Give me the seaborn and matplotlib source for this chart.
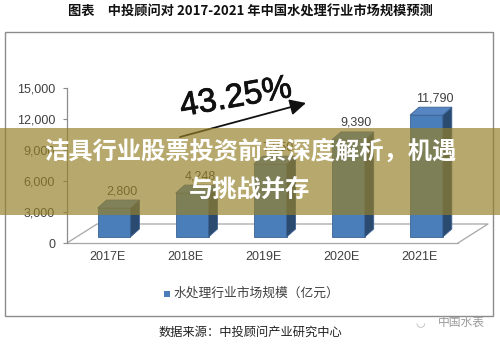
import matplotlib
matplotlib.use("Agg")
import matplotlib.pyplot as plt
import matplotlib.transforms as mtransforms
from matplotlib.patches import Rectangle, Polygon, FancyArrowPatch
import matplotlib.patheffects as pe
import seaborn as sns

# ---- data ----
years = ["2017E", "2018E", "2019E", "2020E", "2021E"]
values = [2800, 4248, 7050, 9390, 11790]
yticks = [0, 3000, 6000, 9000, 12000, 15000]
title = "图表　中投顾问对 2017-2021 年中国水处理行业市场规模预测"
legend_label = "水处理行业市场规模（亿元）"
source = "数据来源：中投顾问产业研究中心"
growth = "43.25%"
banner1 = "洁具行业股票投资前景深度解析，机遇"
banner2 = "与挑战并存"
watermark = "中国水表"

sns.set_theme(style="white")
plt.rcParams["font.family"] = ["Liberation Sans", "Noto Sans CJK SC", "DejaVu Sans"]
CJK = ["Noto Sans CJK SC", "DejaVu Sans"]

W, H = 500, 344
fig = plt.figure(figsize=(W / 100, H / 100), dpi=100)
fig.patch.set_facecolor("white")


def px(x, y):
    return x / W, 1 - y / H


# axes: left at x=67px, y=0 at 243px, 15000 at 88px
ax_left, ax_right, ax_bot, ax_top = 67, 461, 243, 88
ax = fig.add_axes([ax_left / W, 1 - ax_bot / H, (ax_right - ax_left) / W, (ax_bot - ax_top) / H])
ax.set_facecolor("none")

px_per_x = 78.1
px_per_y = (ax_bot - ax_top) / 15000.0
dx = 9 / px_per_x
dy = 8 / px_per_y
base = 6 / px_per_y

FRONT = "#4A7EBB"
SIDE = "#2B4A70"
TOP = "#5786C2"
EDGE = "#3B6294"

sns.barplot(x=years, y=values, ax=ax, color=FRONT, saturation=1, width=0.42,
            bottom=base, edgecolor=EDGE, linewidth=0.6, zorder=3)

xl = (ax_left - 114) / px_per_x
xr = (ax_right - 114) / px_per_x
ax.set_xlim(xl, xr)
ax.set_ylim(0, 15000)

# 3D faces
for p, v in zip(ax.patches, values):
    x0, w = p.get_x(), p.get_width()
    y0, h = p.get_y(), p.get_height()
    top = y0 + h
    side = Polygon([(x0 + w, y0), (x0 + w + dx, y0 + dy), (x0 + w + dx, top + dy), (x0 + w, top)],
                   closed=True, facecolor=SIDE, edgecolor=EDGE, lw=0.6, zorder=3, clip_on=False)
    tp = Polygon([(x0, top), (x0 + dx, top + dy), (x0 + w + dx, top + dy), (x0 + w, top)],
                 closed=True, facecolor=TOP, edgecolor=EDGE, lw=0.6, zorder=3, clip_on=False)
    ax.add_patch(side)
    ax.add_patch(tp)
    ax.annotate(f"{v:,}", (x0 + w / 2, top), xytext=(8, 17), textcoords="offset pixels",
                ha="center", va="center", fontsize=9, color="#404040", zorder=4,
                annotation_clip=False)

# floor
fdx = 30 / px_per_x
fdy = 19 / px_per_y
fx_r = (458 - 114) / px_per_x
floor_kw = dict(color="#a6a6a6", lw=0.9, clip_on=False, zorder=1)
ax.plot([xl, fx_r], [0, 0], **floor_kw)
ax.plot([xl, xl + fdx, fx_r + fdx, fx_r], [0, fdy, fdy, 0], **floor_kw)

# axes styling
for s in ["top", "right", "bottom"]:
    ax.spines[s].set_visible(False)
ax.spines["left"].set_color("#8c8c8c")
ax.spines["left"].set_linewidth(0.9)
ax.set_yticks(yticks)
ax.set_yticklabels([f"{t:,}" for t in yticks])
ax.tick_params(axis="y", direction="out", length=3, width=0.8, color="#8c8c8c",
               pad=5.5, labelsize=9, labelcolor="#404040", left=True)
ax.set_xticks(range(len(years)))
ax.set_xticklabels(years)
ax.tick_params(axis="x", length=0, pad=6, labelsize=9, labelcolor="#404040")
shift = mtransforms.ScaledTranslation(-7 / 100, 0, fig.dpi_scale_trans)
for lab in ax.get_xticklabels():
    lab.set_transform(lab.get_transform() + shift)
ax.set_xlabel("")
ax.set_ylabel("")
ax.grid(False)

# border box
bx0, by0 = px(5, 316)
bx1, by1 = px(493, 32)
fig.patches.append(Rectangle((bx0, by0), bx1 - bx0, by1 - by0, transform=fig.transFigure,
                             facecolor="none", edgecolor="#8c8c8c", lw=1.0, zorder=0))

# title
fig.text(*px(250, 12), title, ha="center", va="center", fontsize=9.5, fontweight="bold",
         color="#111111", family=CJK)

# growth text + arrow
fig.text(*px(236, 98), growth, ha="center", va="center", fontsize=24, rotation=10,
         color="#111111", rotation_mode="anchor",
         path_effects=[pe.withStroke(linewidth=0.6, foreground="#111111")])
arrow = FancyArrowPatch(posA=px(180, 137), posB=px(306, 103), transform=fig.transFigure,
                        arrowstyle="-|>,head_length=6,head_width=3", mutation_scale=1.6,
                        shrinkA=0, shrinkB=0, color="#111111", lw=1.3, zorder=5)
fig.add_artist(arrow)

# legend
fig.patches.append(Rectangle(px(164, 297), 6 / W, 6 / H, transform=fig.transFigure,
                             facecolor=FRONT, edgecolor="none", zorder=2))
fig.text(*px(174, 293), legend_label, ha="left", va="center", fontsize=9.2,
         color="#404040", family=CJK)

# source
fig.text(*px(250, 332), source, ha="center", va="center", fontsize=8.8,
         color="#222222", family=CJK)

# watermark
fig.text(*px(461, 322), watermark, ha="center", va="center", fontsize=8.5,
         color="#9a9a9a", family=CJK)
fig.text(*px(420, 323), "◡", ha="center", va="center", fontsize=8, color="#b0b0b0",
         family=["DejaVu Sans"])

# banner overlay
b0x, b0y = px(0, 215)
fig.patches.append(Rectangle((b0x, b0y), 1, (215 - 128) / H, transform=fig.transFigure,
                             facecolor=(150 / 255, 128 / 255, 40 / 255), alpha=0.68,
                             edgecolor="none", zorder=10))
fig.text(*px(250, 152), banner1, ha="center", va="center", fontsize=17.5, fontweight="bold",
         color="white", family=CJK, zorder=11)
fig.text(*px(249, 190), banner2, ha="center", va="center", fontsize=17.5, fontweight="bold",
         color="white", family=CJK, zorder=11)

fig.savefig("out.png", dpi=100, facecolor="white")
